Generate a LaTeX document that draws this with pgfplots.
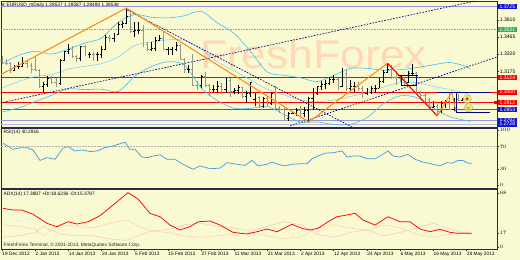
\documentclass[border=0pt]{standalone}
\usepackage{pgfplots}
\pgfplotsset{compat=1.18}
\usepackage{pgfplotstable}
\usepackage{fontspec}
\setmainfont{Liberation Sans}
\newfontfamily\dejavu{DejaVu Sans}
\definecolor{bg}{RGB}{250,250,210}
\definecolor{axc}{RGB}{40,40,80}
\definecolor{wm}{RGB}{255,217,181}
\definecolor{orng}{RGB}{255,140,26}
\definecolor{navy}{RGB}{0,0,128}
\definecolor{bbc}{RGB}{64,192,240}
\definecolor{lav1}{RGB}{185,185,230}
\definecolor{lav2}{RGB}{150,150,220}
\definecolor{purp}{RGB}{80,80,200}
\definecolor{grn}{RGB}{112,192,112}
\definecolor{boxblue}{RGB}{20,20,210}
\definecolor{boxgreen}{RGB}{60,170,90}
\definecolor{rsic}{RGB}{70,160,230}
\definecolor{pdi}{RGB}{250,215,170}
\definecolor{mdi}{RGB}{245,205,195}
\definecolor{downc}{RGB}{150,150,135}
\definecolor{circ}{RGB}{225,225,120}
\newcommand\sm{\fontsize{4.8}{5.2}\selectfont}
\newcommand\lb{\fontsize{5.1}{5.5}\selectfont}
\pgfdeclareplotmark{rtick}{\pgfpathmoveto{\pgfqpoint{0pt}{0pt}}\pgfpathlineto{\pgfqpoint{1.5pt}{0pt}}\pgfusepathqstroke}
\pgfdeclareplotmark{ltick}{\pgfpathmoveto{\pgfqpoint{-1.5pt}{0pt}}\pgfpathlineto{\pgfqpoint{0pt}{0pt}}\pgfusepathqstroke}

\pgfplotstableread{
i o h l c
0 1.3270 1.3308 1.3235 1.3245
1 1.3245 1.3282 1.3225 1.3240
2 1.3240 1.3250 1.3160 1.3180
3 1.3180 1.3230 1.3175 1.3220
4 1.3220 1.3250 1.3195 1.3220
5 1.3220 1.3300 1.3210 1.3240
6 1.3240 1.3260 1.3205 1.3225
7 1.3225 1.3245 1.3160 1.3190
8 1.3190 1.3292 1.3175 1.3185
9 1.3185 1.3195 1.3035 1.3050
10 1.3050 1.3085 1.2997 1.3065
11 1.3065 1.3135 1.3040 1.3115
12 1.3115 1.3135 1.3070 1.3085
13 1.3085 1.3115 1.3040 1.3070
14 1.3070 1.3275 1.3060 1.3270
15 1.3270 1.3350 1.3260 1.3345
16 1.3345 1.3402 1.3320 1.3365
17 1.3365 1.3388 1.3290 1.3300
18 1.3300 1.3315 1.3256 1.3285
19 1.3285 1.3385 1.3260 1.3385
20 1.3385 1.3400 1.3302 1.3315
21 1.3315 1.3340 1.3290 1.3320
22 1.3320 1.3340 1.3260 1.3315
23 1.3315 1.3340 1.3265 1.3315
24 1.3315 1.3385 1.3290 1.3365
25 1.3365 1.3480 1.3355 1.3460
26 1.3460 1.3480 1.3420 1.3450
27 1.3450 1.3500 1.3425 1.3485
28 1.3485 1.3590 1.3480 1.3570
29 1.3570 1.3600 1.3545 1.3580
30 1.3580 1.3711 1.3575 1.3640
31 1.3640 1.3670 1.3500 1.3510
32 1.3510 1.3590 1.3465 1.3525
33 1.3525 1.3590 1.3495 1.3525
34 1.3525 1.3570 1.3380 1.3405
35 1.3405 1.3420 1.3350 1.3365
36 1.3365 1.3425 1.3345 1.3370
37 1.3370 1.3465 1.3350 1.3440
38 1.3440 1.3480 1.3435 1.3450
39 1.3450 1.3520 1.3355 1.3360
40 1.3360 1.3382 1.3315 1.3365
41 1.3365 1.3380 1.3315 1.3365
42 1.3365 1.3420 1.3345 1.3395
43 1.3395 1.3405 1.3270 1.3280
44 1.3280 1.3290 1.3160 1.3190
45 1.3190 1.3230 1.3160 1.3190
46 1.3190 1.3320 1.3050 1.3060
47 1.3060 1.3095 1.3020 1.3055
48 1.3055 1.3145 1.3035 1.3130
49 1.3130 1.3165 1.3045 1.3055
50 1.3055 1.3070 1.2965 1.3020
51 1.3020 1.3055 1.2990 1.3025
52 1.3025 1.3090 1.2995 1.3050
53 1.3050 1.3075 1.2985 1.3020
54 1.3020 1.3115 1.2995 1.3100
55 1.3100 1.3115 1.2955 1.3005
56 1.3005 1.3035 1.2980 1.3015
57 1.3015 1.3060 1.2985 1.3035
58 1.3035 1.3045 1.2945 1.2960
59 1.2960 1.3010 1.2910 1.2985
60 1.2985 1.3085 1.2960 1.3080
61 1.2935 1.2995 1.2880 1.2955
62 1.2955 1.2965 1.2860 1.2875
63 1.2875 1.2955 1.2860 1.2945
64 1.2945 1.2960 1.2880 1.2900
65 1.2900 1.3000 1.2890 1.2990
66 1.2990 1.3050 1.2845 1.2860
67 1.2860 1.2885 1.2825 1.2850
68 1.2850 1.2860 1.2750 1.2775
69 1.2775 1.2830 1.2750 1.2820
70 1.2820 1.2835 1.2810 1.2820
71 1.2820 1.2860 1.2800 1.2845
72 1.2845 1.2880 1.2800 1.2815
73 1.2815 1.2870 1.2790 1.2845
74 1.2845 1.2955 1.2745 1.2945
75 1.2945 1.3035 1.2850 1.2990
76 1.2990 1.3050 1.2970 1.3045
77 1.3045 1.3090 1.3020 1.3065
78 1.3065 1.3100 1.3025 1.3075
79 1.3075 1.3125 1.3060 1.3110
80 1.3110 1.3140 1.3080 1.3110
81 1.3110 1.3120 1.3020 1.3045
82 1.3045 1.3200 1.3040 1.3160
83 1.3160 1.3190 1.3005 1.3030
84 1.3030 1.3100 1.3010 1.3045
85 1.3045 1.3085 1.3000 1.3050
86 1.3050 1.3085 1.3010 1.3030
87 1.3030 1.3050 1.2950 1.2985
88 1.2985 1.3030 1.2975 1.2995
89 1.2995 1.3050 1.2985 1.3030
90 1.3030 1.3060 1.2995 1.3030
91 1.3030 1.3115 1.3030 1.3090
92 1.3090 1.3190 1.3080 1.3170
93 1.3170 1.3243 1.3160 1.3190
94 1.3190 1.3225 1.3110 1.3120
95 1.3120 1.3175 1.3060 1.3115
96 1.3115 1.3145 1.3085 1.3110
97 1.3110 1.3125 1.3055 1.3080
98 1.3080 1.3175 1.3075 1.3155
99 1.3155 1.3240 1.3140 1.3160
100 1.3160 1.3165 1.2985 1.2990
101 1.2990 1.3010 1.2950 1.2975
102 1.2975 1.3000 1.2910 1.2925
103 1.2925 1.2945 1.2860 1.2870
104 1.2870 1.2920 1.2860 1.2880
105 1.2880 1.2895 1.2796 1.2835
106 1.2835 1.2920 1.2820 1.2905
107 1.2905 1.2935 1.2860 1.2920
108 1.2920 1.3000 1.2850 1.2855
109 1.2855 1.2950 1.2835 1.2935
110 1.2935 1.2980 1.2920 1.2930
111 1.2930 1.2950 1.2920 1.2935
112 1.2935 1.2945 1.2850 1.2860
113 1.2854 1.2859 1.2849 1.2854
}\ohlc

\pgfplotstableread{
i ub mb lb
0 1.32375 1.30335 1.28295
4 1.33095 1.30875 1.28655
8 1.33445 1.31315 1.29185
12 1.33205 1.31465 1.29725
16 1.33626 1.31940 1.30254
20 1.34150 1.32175 1.30200
24 1.34560 1.32400 1.30240
28 1.35885 1.32965 1.30045
32 1.36550 1.33935 1.31320
36 1.36330 1.34240 1.32150
40 1.36270 1.34410 1.32550
44 1.36450 1.34365 1.32280
48 1.36830 1.33600 1.30370
52 1.35840 1.32550 1.29260
56 1.34955 1.31785 1.28615
60 1.33406 1.31010 1.28614
64 1.31688 1.30230 1.28772
68 1.31410 1.29750 1.28090
72 1.31200 1.29325 1.27450
76 1.30880 1.29170 1.27460
80 1.31400 1.29320 1.27240
84 1.31990 1.29620 1.27250
88 1.32000 1.29910 1.27820
92 1.31840 1.30420 1.29000
96 1.31890 1.30780 1.29670
100 1.32056 1.30790 1.29524
104 1.32300 1.30475 1.28650
108 1.32496 1.30200 1.27904
112 1.32160 1.29870 1.27580
113 1.31900 1.29705 1.27500
}\bb

\pgfplotstableread{
i v
0.24 76
2.65 65
4.34 68
6.03 68
7.48 64
9.17 45
10.85 50
12.78 47
14.71 67
15.92 70
17.61 62
19.30 64
21.23 61
22.91 62
24.84 68
26.77 71
27.98 74
29.67 78
30.87 65
32.08 65
33.77 51
35.21 50
36.42 53
38.11 55
39.80 47
41.73 47
43.66 38
46.07 29
47.76 35
50.17 30
52.58 31
54.27 41
56.68 38
58.61 36
60.30 45
61.75 35
63.92 38
65.12 42
66.57 38
68.26 35
69.95 38
71.88 39
73.57 39
74.77 48
76.22 53
77.91 58
79.84 59
82.01 62
83.21 51
84.66 53
86.35 53
88.04 48
89.97 48
91.65 55
93.10 62
94.31 53
96.00 51
97.93 56
99.61 47
101.54 42
103.96 38
105.64 35
107.33 41
108.54 40
109.99 45
111.19 45
112.40 40
113.36 40
}\rsi

\pgfplotstableread{
i v
0.24 48.9
2.65 46.7
4.82 46.7
7.48 41.3
10.85 29.8
13.27 25.5
15.92 31.8
18.09 28.9
20.74 31.8
23.64 39.5
26.77 53.0
30.39 68.8
32.80 60.8
35.70 42.5
38.11 38.2
40.52 27.6
42.93 21.3
45.34 25.5
47.27 31.8
50.17 32.7
52.58 27.6
55.72 18.3
59.09 16.2
61.50 19.1
63.92 22.5
66.33 19.1
69.95 28.5
72.36 23.4
74.29 21.3
76.22 23.4
78.63 31.8
80.80 38.2
83.21 40.4
85.14 42.5
87.07 34.0
89.97 27.6
93.10 38.2
96.00 31.8
98.41 31.8
100.82 22.5
103.23 19.1
105.64 22.2
108.06 18.3
109.99 17.0
113.36 17.0
}\adx

\pgfplotstableread{
i p m
0 28 12
4 26 14
8 22 18
10 14 26
14 28 16
18 26 14
22 24 14
26 30 10
30 34 8
33 26 14
36 20 20
40 18 22
44 14 28
48 12 30
52 14 26
56 16 24
60 18 20
64 14 26
68 10 32
72 12 28
76 24 16
80 28 12
84 24 18
88 20 22
92 28 14
96 24 18
100 16 24
104 12 30
108 16 22
113 18.6 15.4
}\di

\pgfplotsset{panel/.style={
  scale only axis, width=496pt, xmin=-0.241, xmax=119.39,
  axis line style={draw=axc, line width=0.6pt},
  xtick=\empty, ytick pos=right, yticklabel pos=right,
  tick align=outside, major tick length=1.8pt,
  tick style={draw=black!80, line width=0.4pt},
  yticklabel style={font=\lb, inner xsep=0.8pt, text=black},
  clip mode=individual, scaled y ticks=false}}
\tikzset{rlab/.style={anchor=west, xshift=0.4pt, inner sep=0.4pt, font=\lb, text=white, minimum width=19.5pt, minimum height=5pt}}

\begin{document}
\begin{tikzpicture}
\path[use as bounding box] (0pt,0pt) rectangle (520pt,-260pt);
\fill[bg] (0pt,0pt) rectangle (520pt,-260pt);

% ---------------- main price panel
\begin{axis}[panel, at={(1pt,-1.5pt)}, anchor=north west, height=126pt,
  ymin=1.26989, ymax=1.37661,
  ytick={1.3175,1.3320,1.3465,1.3610},
  yticklabels={1.3175,1.3320,1.3465,1.3610}]
\node[font=\fontsize{40}{40}\selectfont, text=wm, anchor=base, xscale=1.11, inner sep=0pt] at (axis cs:75.13,1.31986) {FreshForex};

\addplot[draw=lav1, line width=0.8pt] coordinates {(-1,1.27285) (120,1.27285)};
\addplot[draw=lav2, line width=0.6pt] coordinates {(-1,1.27624) (120,1.27624)};
\addplot[draw=purp, line width=0.7pt] coordinates {(-1,1.28530) (120,1.28530)};
\addplot[draw=red, line width=0.7pt] coordinates {(-1,1.29123) (120,1.29123)};
\addplot[draw=red, line width=0.7pt] coordinates {(-1,1.29996) (120,1.29996)};
\addplot[draw=red, line width=0.7pt] coordinates {(-1,1.31241) (120,1.31241)};
\addplot[draw=grn, densely dotted, line width=0.6pt] coordinates {(-1,1.3531) (120,1.3531)};
\addplot[draw=lav2, line width=0.7pt] coordinates {(-1,1.37254) (120,1.37254)};

\addplot[draw=bbc, line width=0.6pt, smooth, tension=0.5] table[x=i,y=ub] {\bb};
\addplot[draw=bbc!70, line width=0.55pt, smooth, tension=0.5] table[x=i,y=mb] {\bb};
\addplot[draw=bbc, line width=0.6pt, smooth, tension=0.5] table[x=i,y=lb] {\bb};

\addplot[draw=navy, line width=0.7pt, dash pattern=on 1.6pt off 1.4pt] coordinates {(30.2,1.3694) (86.35,1.26675)};
\addplot[draw=navy, line width=0.7pt, dash pattern=on 1.6pt off 1.4pt] coordinates {(-0.48,1.29064) (119.39,1.38093)};
\addplot[draw=navy, line width=0.7pt, dash pattern=on 1.6pt off 1.4pt] coordinates {(69.46,1.27116) (119.39,1.3296)};

% bars: up
\addplot[black, line width=0.65pt, only marks, mark=rtick,
  x filter/.expression={\thisrow{c}<\thisrow{o} ? nan : x},
  error bars/.cd, y dir=both, y explicit, error mark=none,
  error bar style={line width=0.65pt, black}]
  table[x=i, y=c, y error plus expr=\thisrow{h}-\thisrow{c}, y error minus expr=\thisrow{c}-\thisrow{l}] {\ohlc};
\addplot[black, line width=0.65pt, only marks, mark=ltick,
  x filter/.expression={\thisrow{c}<\thisrow{o} ? nan : x}]
  table[x=i, y=o] {\ohlc};
% bars: down
\addplot[downc, line width=0.65pt, only marks, mark=rtick,
  x filter/.expression={\thisrow{c}<\thisrow{o} ? x : nan},
  error bars/.cd, y dir=both, y explicit, error mark=none,
  error bar style={line width=0.65pt, downc}]
  table[x=i, y=c, y error plus expr=\thisrow{h}-\thisrow{c}, y error minus expr=\thisrow{c}-\thisrow{l}] {\ohlc};
\addplot[downc, line width=0.65pt, only marks, mark=ltick,
  x filter/.expression={\thisrow{c}<\thisrow{o} ? x : nan}]
  table[x=i, y=o] {\ohlc};

% zigzag and objects
\addplot[draw=orng, line width=1.1pt] coordinates {(-0.48,1.31436) (30,1.3711) (74,1.2745) (93,1.3243)};
\addplot[draw=red, line width=1.1pt] coordinates {(93,1.3243) (105,1.2796)};
\addplot[draw=orng, line width=1.0pt] coordinates {(105,1.2796) (108.5,1.3000) (109.5,1.2830)};
\addplot[draw=navy, line width=0.7pt] coordinates {(95.5,1.31435) (100.3,1.31435)};
\addplot[draw=navy, line width=0.7pt] coordinates {(96.4,1.31435) (96.4,1.30529) (100,1.30529) (100,1.31435)};
\addplot[draw=navy, line width=0.8pt] coordinates {(105.2,1.29996) (117.7,1.29996)};
\addplot[draw=navy, line width=0.8pt] coordinates {(109.5,1.29996) (109.5,1.28242) (117.7,1.28242)};
\addplot[only marks, mark=*, mark size=4.3pt, mark options={fill=circ, draw=circ!80!black, fill opacity=0.8, line width=0.3pt}] coordinates {(112.2,1.29403) (112.5,1.28666)};
\addplot[only marks, mark=triangle*, mark size=1.3pt, mark options={fill=red, draw=red}] coordinates {(112.2,1.29420)};
\addplot[only marks, mark=triangle*, mark size=1.1pt, mark options={fill=olive!70, draw=olive!70, rotate=180}] coordinates {(112.5,1.28640)};
\addplot[only marks, mark=square, mark size=1.1pt, mark options={draw=red, line width=0.4pt}] coordinates {(119.0,1.29123)};

\node[anchor=west, font=\sm, inner sep=0pt, text=black] at (rel axis cs:0,0.968) {{\dejavu\fontsize{4.8}{5}\selectfont ≡} EURUSD\_mDaily 1.28537 1.28587 1.28490 1.28538};

\node[rlab, fill=boxblue] at (axis cs:119.39,1.37254) {1.3725};
\node[rlab, fill=boxgreen] at (axis cs:119.39,1.3531) {1.3531};
\node[rlab, fill=red] at (axis cs:119.39,1.31241) {1.3124};
\node[rlab, fill=red] at (axis cs:119.39,1.29996) {1.3000};
\node[rlab, fill=red] at (axis cs:119.39,1.29123) {1.2912};
\node[rlab, fill=boxblue] at (axis cs:119.39,1.28530) {1.2853};
\node[rlab, fill=boxblue] at (axis cs:119.39,1.27624) {1.2762};
\node[rlab, fill=boxblue] at (axis cs:119.39,1.27285) {1.2728};
\end{axis}

% ---------------- RSI panel
\begin{axis}[panel, at={(1pt,-128.5pt)}, anchor=north west, height=59.8pt,
  ymin=-5.45, ymax=102.7, ytick={0,30,70,100}]
\addplot[densely dotted, black!30, line width=0.5pt] coordinates {(-1,70) (120,70)};
\addplot[draw=rsic, line width=0.75pt] table[x=i,y=v] {\rsi};
\node[anchor=north west, font=\sm, inner sep=0pt, text=black] at (rel axis cs:0,1) [xshift=2.5pt, yshift=-1.3pt] {RSI(14) 40.2916};
\end{axis}

% ---------------- ADX panel
\begin{axis}[panel, at={(1pt,-189pt)}, anchor=north west, height=60pt,
  ymin=-2.93, ymax=73.5, ytick={0,17,68},
  xtick={0,8,...,112}, xtick pos=bottom,
  xticklabels={19 Dec 2012,2 Jan 2013,14 Jan 2013,24 Jan 2013,5 Feb 2013,15 Feb 2013,27 Feb 2013,11 Mar 2013,21 Mar 2013,2 Apr 2013,12 Apr 2013,24 Apr 2013,6 May 2013,16 May 2013,28 May 2013},
  xticklabel style={font=\sm, anchor=north west, inner sep=0.5pt, xshift=-0.2pt, yshift=-0.6pt, text=black}]
\addplot[draw=pdi, line width=0.6pt] table[x=i,y=p] {\di};
\addplot[draw=mdi, line width=0.6pt] table[x=i,y=m] {\di};
\addplot[draw=red, line width=0.75pt] table[x=i,y=v] {\adx};
\node[anchor=north west, font=\sm, inner sep=0pt, text=black] at (rel axis cs:0,1) [xshift=2.5pt, yshift=-2.5pt] {ADX(14) 17.3887 +DI:18.6236 -DI:15.3787};
\node[anchor=south west, font=\sm, inner sep=0pt, text=black!85] at (rel axis cs:0,0) [xshift=2.5pt, yshift=1pt] {FreshForex Terminal, © 2001-2013, MetaQuotes Software Corp.};
\end{axis}
\end{tikzpicture}
\end{document}
